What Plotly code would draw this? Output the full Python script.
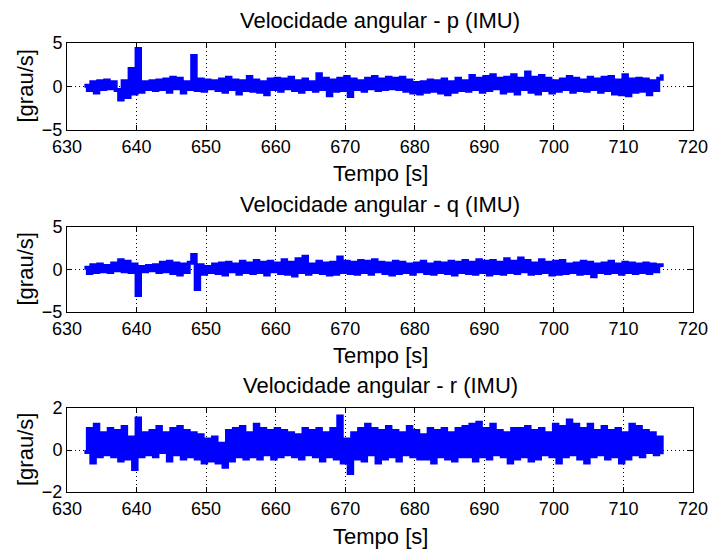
import numpy as np
import plotly.graph_objects as go

# ---- data ----
t_start = 632.5
t_step = 0.5

p_vals = [
    0.1, -0.4, 0.5, -0.7, 0.6, -0.3, 0.7, -0.2, 0.5, -0.4,
    -1.5, 0.6, -1.2, 2.0, -0.8, 4.3, -0.6, 0.5, -0.3, 0.6,
    -0.4, 0.7, -0.3, 0.8, -0.6, 1.0, -0.2, 0.9, -0.7, 0.5,
    -0.3, 3.5, -0.4, 0.8, -0.5, 0.7, -0.2, 0.6, -0.4, 0.8,
    -0.6, 1.0, -0.3, 0.7, -0.8, 0.6, -0.4, 1.1, -0.5, 0.7,
    -0.6, 0.5, -0.9, 0.8, -0.3, 0.9, -0.5, 0.8, -0.2, 1.0,
    -0.4, 0.6, -0.6, 0.8, -0.3, 0.5, -0.5, 1.4, -0.3, 0.9,
    -1.0, 0.7, -0.5, 0.9, -0.4, 1.1, -1.1, 0.8, -0.3, 0.6,
    -0.5, 0.9, -0.2, 1.1, -0.4, 0.8, -0.3, 1.0, -0.2, 0.9,
    -0.3, 1.0, -0.5, 0.7, -0.7, 0.4, -0.8, 0.5, -0.6, 0.7,
    -0.5, 0.6, -0.7, 0.8, -0.9, 0.5, -0.6, 0.9, -0.4, 0.6,
    -0.5, 1.2, -0.3, 0.9, -0.6, 1.1, -0.4, 1.3, -0.2, 0.9,
    -0.7, 1.0, -0.5, 1.3, -0.8, 0.9, -0.3, 1.6, -0.6, 1.0,
    -0.8, 1.2, -0.4, 0.9, -0.7, 0.6, -0.5, 0.8, -0.3, 1.1,
    -0.6, 0.9, -0.4, 0.7, -0.5, 1.0, -0.3, 0.8, -0.6, 1.0,
    -0.4, 1.1, -0.8, 0.7, -0.9, 1.3, -1.0, 0.8, -0.6, 0.9,
    -0.5, 0.8, -0.9, 0.6, -0.4, 0.9, 1.4,
]

q_vals = [
    0.2, -0.4, 0.5, -0.3, 0.6, -0.2, 0.4, -0.3, 0.7, -0.1,
    1.1, -0.2, 0.9, -0.3, 0.6, -3.0, 0.3, -0.2, 0.4, -0.1,
    0.5, -0.3, 0.8, -0.2, 0.9, -0.4, 0.7, -0.6, 0.6, -0.3,
    0.8, 1.7, -2.3, 0.5, -0.5, 0.3, -0.3, 0.6, -0.4, 0.7,
    -0.6, 0.8, -0.2, 0.6, -0.5, 0.9, -0.3, 0.7, -0.4, 1.0,
    -0.3, 0.8, -0.6, 0.9, -0.2, 0.7, -0.4, 1.1, -0.5, 0.8,
    -0.7, 1.2, -0.3, 1.5, -0.5, 0.6, -0.3, 0.9, -0.4, 0.7,
    -0.6, 0.8, -0.5, 1.4, -0.3, 0.9, -0.4, 0.8, -0.5, 1.0,
    -0.3, 0.9, -0.5, 1.1, -0.2, 0.8, -0.4, 0.7, -0.6, 0.9,
    -0.4, 0.8, -0.3, 0.6, -0.5, 0.7, -0.2, 0.9, -0.4, 0.6,
    -0.5, 0.8, -0.3, 0.7, -0.4, 0.9, -0.6, 0.8, -0.3, 1.0,
    -0.4, 0.8, -0.5, 1.1, -0.3, 0.9, -0.6, 1.0, -0.4, 0.8,
    -0.5, 1.2, -0.3, 0.9, -0.4, 1.3, -0.2, 1.0, -0.5, 0.7,
    -0.4, 1.1, -0.3, 0.8, -0.6, 0.9, -0.5, 1.0, -0.4, 0.6,
    -0.3, 0.7, -0.5, 0.9, -0.4, 0.8, -0.8, 0.6, -0.3, 0.7,
    -0.4, 0.9, -0.3, 0.6, -0.5, 0.8, -0.3, 0.7, -0.4, 0.6,
    -0.3, 0.7, -0.4, 0.6, -0.2, 0.5, 0.3,
]

r_vals = [
    -0.1, 1.0, -0.6, 1.2, -0.3, 0.8, -0.2, 1.0, -0.3, 0.9,
    -0.5, 1.1, -0.4, 0.6, -0.9, 1.5, -0.3, 0.8, -0.2, 0.9,
    -0.3, 1.1, -0.1, 0.8, -0.5, 1.0, -0.2, 1.1, -0.4, 0.9,
    -0.3, 0.8, -0.4, 0.7, -0.6, 0.5, -0.5, 0.6, -0.6, 0.3,
    -0.8, 0.9, -0.5, 1.0, -0.3, 1.1, -0.4, 0.8, -0.3, 1.2,
    -0.4, 1.0, -0.2, 0.9, -0.4, 1.0, -0.3, 0.9, -0.2, 0.8,
    -0.3, 0.7, -0.4, 1.0, -0.2, 0.9, -0.3, 1.0, -0.5, 0.8,
    -0.3, 1.0, -0.4, 1.6, -0.6, 0.5, -1.1, 0.8, -0.4, 1.0,
    -0.5, 1.2, -0.2, 1.0, -0.6, 0.9, -0.4, 1.1, -0.3, 0.9,
    -0.5, 0.8, -0.2, 1.1, -0.3, 0.9, -0.4, 0.7, -0.4, 1.0,
    -0.6, 0.9, -0.3, 1.0, -0.4, 0.8, -0.5, 1.0, -0.3, 1.1,
    -0.3, 1.2, -0.5, 1.3, -0.3, 1.0, -0.4, 1.2, -0.2, 0.9,
    -0.3, 0.8, -0.6, 1.0, -0.4, 1.0, -0.3, 1.1, -0.5, 0.9,
    -0.4, 1.0, -0.2, 0.8, -0.3, 1.2, -0.6, 1.1, -0.3, 1.4,
    -0.2, 1.2, -0.4, 1.0, -0.6, 1.2, -0.3, 0.9, -0.2, 1.1,
    -0.4, 0.9, -0.3, 1.0, -0.6, 0.8, -0.4, 1.2, -0.2, 1.1,
    -0.3, 0.9, -0.1, 0.8, -0.2, 0.6, -0.2,
]

titles = ["Velocidade angular - p (IMU)", "Velocidade angular - q (IMU)",
          "Velocidade angular - r (IMU)"]
x_ticks = [630, 640, 650, 660, 670, 680, 690, 700, 710, 720]
y_ticks_pq = [-5, 0, 5]
y_ticks_r = [-2, 0, 2]
x_label = "Tempo [s]"
y_label = "[grau/s]"

time = t_start + t_step * np.arange(len(p_vals))

# ---- layout geometry (pixels) ----
W, H = 709, 552
x0_px, x1_px = 67, 693
panels = [  # (top px, bottom px, title y, xlabel y)
    (43, 130, 21, 174),
    (227, 312, 204, 355),
    (408, 492, 385, 536),
]
FONT = "Liberation Sans, Arial, sans-serif"

fig = go.Figure()
series = [p_vals, q_vals, r_vals]
yticks = [y_ticks_pq, y_ticks_pq, y_ticks_r]
annotations = []
for i, (vals, (top, bot, ty, xly)) in enumerate(zip(series, panels)):
    n = "" if i == 0 else str(i + 1)
    fig.add_trace(go.Scatter(
        x=time, y=vals, mode="lines", line=dict(color="#0000ff", width=4, shape="hv"),
        xaxis="x" + n, yaxis="y" + n, showlegend=False, hoverinfo="skip"))
    yt = yticks[i]
    axis_common = dict(showline=True, linecolor="black", linewidth=1, mirror="ticks",
                       ticks="inside", ticklen=5, tickcolor="black",
                       showgrid=True, gridcolor="black", gridwidth=1, griddash="1px,3px",
                       zeroline=False, automargin=False,
                       tickfont=dict(family=FONT, size=18, color="black"),
                       layer="above traces")
    fig.layout["xaxis" + n] = dict(
        domain=[x0_px / W, x1_px / W], range=[630, 720], tickvals=x_ticks,
        anchor="y" + n, **axis_common)
    fig.layout["yaxis" + n] = dict(
        domain=[(H - bot) / H, (H - top) / H], range=[yt[0], yt[-1]], tickvals=yt,
        anchor="x" + n, **axis_common)
    annotations.append(dict(text=titles[i], x=(x0_px + x1_px) / 2 / W, y=(H - ty) / H,
                            xref="paper", yref="paper", showarrow=False,
                            xanchor="center", yanchor="middle",
                            font=dict(family=FONT, size=22, color="black")))
    annotations.append(dict(text=x_label, x=(x0_px + x1_px) / 2 / W, y=(H - xly) / H,
                            xref="paper", yref="paper", showarrow=False,
                            xanchor="center", yanchor="middle",
                            font=dict(family=FONT, size=22, color="black")))
    annotations.append(dict(text=y_label, x=25 / W, y=(H - (top + bot) / 2) / H,
                            xref="paper", yref="paper", showarrow=False, textangle=-90,
                            xanchor="center", yanchor="middle",
                            font=dict(family=FONT, size=22, color="black")))

fig.update_layout(template="none", width=W, height=H,
                  margin=dict(l=0, r=0, t=0, b=0, autoexpand=False),
                  paper_bgcolor="white", plot_bgcolor="white",
                  annotations=annotations)
fig.write_html("out.html", config={"displayModeBar": False},
               post_script="document.body.style.margin='0';document.body.style.overflow='hidden';")
